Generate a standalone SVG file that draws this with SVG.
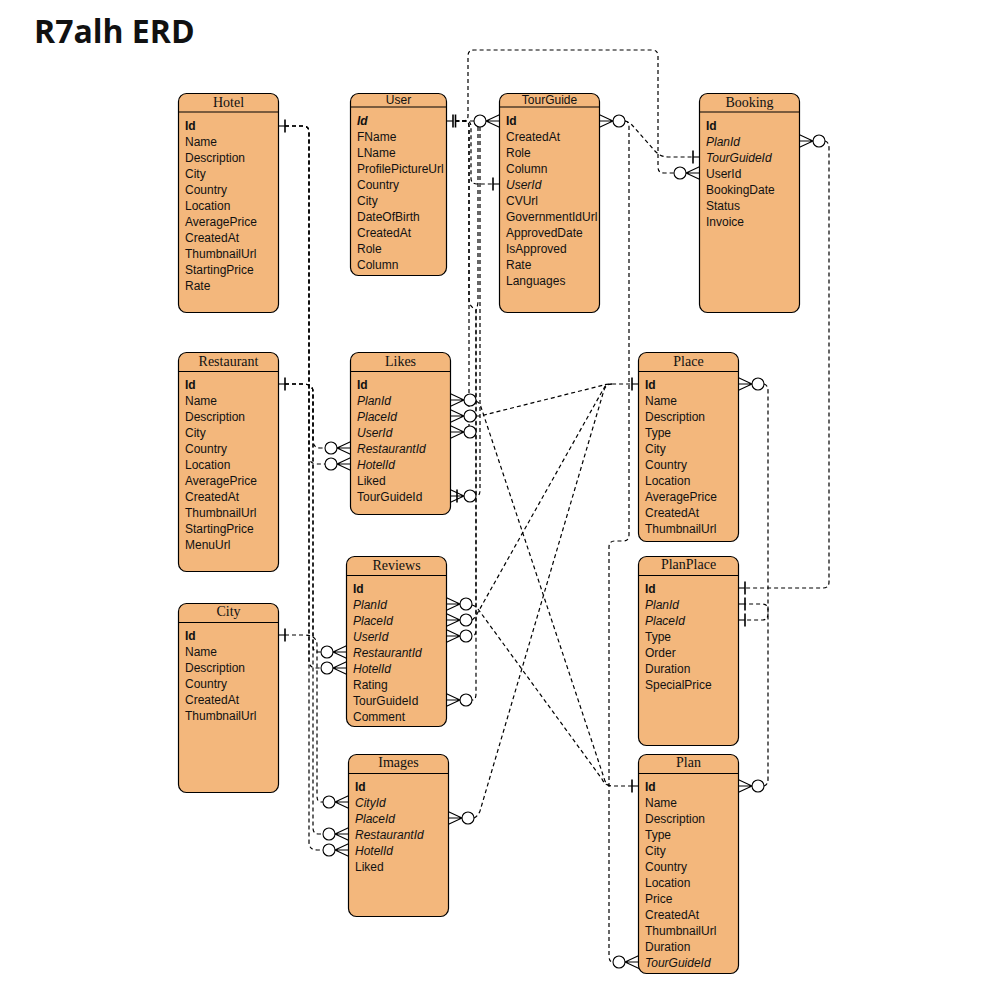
<svg xmlns="http://www.w3.org/2000/svg" xmlns:xlink="http://www.w3.org/1999/xlink" width="986" height="985" viewBox="0 0 986 985">
<style>
.box{fill:#F3B77C;stroke:#000;stroke-width:1.2}
.sep{stroke:#000;stroke-width:1.2}
.ttl{font-family:"Liberation Serif",serif;font-size:14px;fill:#111;text-anchor:middle}
.ttls{font-family:"Liberation Sans",Arial,sans-serif;font-size:12px;fill:#111;text-anchor:middle}
.row{font-family:"Liberation Sans",Arial,sans-serif;font-size:12px;fill:#111}
.pk{font-weight:bold}
.fk{font-style:italic}
.ln{fill:none;stroke:#000;stroke-width:1.2;stroke-dasharray:4 3}
.mk{fill:#fff;stroke:#000;stroke-width:1.1}
.mkl{fill:none;stroke:#000;stroke-width:1.1}
.bar{stroke:#000;stroke-width:1.6}
</style>
<defs>
<g id="cfR"><path class="mkl" d="M0,-6.5 L14,0 L0,6.5 M0,0 L14,0"/><circle class="mk" cx="20" cy="0" r="6"/></g>
<g id="cfL"><path class="mkl" d="M0,-6.5 L-14,0 L0,6.5 M0,0 L-14,0"/><circle class="mk" cx="-20" cy="0" r="6"/></g>
<g id="barR"><path class="mkl" d="M0,0 L7,0"/><line class="bar" x1="7" y1="-6.5" x2="7" y2="6.5"/></g>
<g id="barL"><path class="mkl" d="M0,0 L-7,0"/><line class="bar" x1="-7" y1="-6.5" x2="-7" y2="6.5"/></g>
</defs>
<rect width="986" height="985" fill="#fff"/>
<text x="34" y="42.5" font-family="'Open Sans',sans-serif" font-weight="700" font-size="32" fill="#111">R7alh ERD</text>

<g id="connectors">
<!-- left bundle -->
<path class="ln" d="M285,126 L303,126 Q309,126 309,132 L309,456 Q309,464 317,464 L325,464"/>
<path class="ln" d="M285,126 L303,126 Q309,126 309,132 L309,660 Q309,668 316,668 L321,668"/>
<path class="ln" d="M285,126 L303,126 Q309,126 309,132 L309,842 Q309,850 317,850 L323,850"/>
<path class="ln" d="M285,384 L303,384 Q313,384 313,392 L313,440 Q313,448 320,448 L325,448"/>
<path class="ln" d="M285,384 L303,384 Q313,384 313,392 L313,646 Q313,652 318,652 L321,652"/>
<path class="ln" d="M285,384 L303,384 Q313,384 313,392 L313,828 Q313,834 319,834 L323,834"/>
<path class="ln" d="M285,635 L303,635 Q317,635 317,645 L317,796 Q317,802 321,802 L323,802"/>
<!-- middle column -->
<path class="ln" d="M455,121 L463,121 Q468,121 468,116 L468,56 Q468,50 474,50 L652,50 Q658,50 658,56 L658,167 Q658,173 664,173 L674,173"/>
<path class="ln" d="M455,121 L466,121 Q471,121 471,127 L471,178 Q471,184 477,184 L492,184"/>
<path class="ln" d="M455,121 L464,121 Q469,121 469,126 L469,426"/>
<path class="ln" d="M455,121 L464,121 Q469,121 469,126 L469,300 Q469,306 476,310 L476,630 Q476,636 472,636"/>
<path class="ln" d="M474,121 L457,121"/>
<path class="ln" d="M480,127 L480,490 Q480,496 476,496"/>
<path class="ln" d="M478,127 L478,300 Q478,306 476,310 L476,694 Q476,700 472,700"/>
<!-- diagonals -->
<path class="ln" d="M476,401 Q480,403 481,407 L604,778 Q606,786 612,786 L632,786"/>
<path class="ln" d="M476,416 L480,416 L604,385 Q606,384 612,384 L632,384"/>
<path class="ln" d="M472,605 Q476,606 478,609 L602,779 Q605,786 612,786"/>
<path class="ln" d="M472,620 Q475,618 477,614 L604,388 Q606,384 612,384"/>
<path class="ln" d="M474,818 Q478,816 480,811 L604,390 Q606,384 612,384"/>
<!-- right side -->
<path class="ln" d="M625,121 Q629,122 632,125 L654,150 Q660,157 668,157 L693,157"/>
<path class="ln" d="M625,121 Q629,121 629,127 L629,535 Q629,541 623,541 L615,541 Q609,541 609,547 L609,956 Q609,962 613,962"/>
<path class="ln" d="M825,141 Q829,142 829,148 L829,582 Q829,588 823,588 L745,588"/>
<path class="ln" d="M764,384 Q768,385 768,391 L768,614 Q768,620 762,620 L745,620"/>
<path class="ln" d="M764,786 Q768,785 768,779 L768,610 Q768,604 762,604 L745,604"/>
<!-- end markers -->
<use href="#barR" x="278" y="126"/>
<use href="#barR" x="278" y="384"/>
<use href="#barR" x="278" y="635"/>
<use href="#barR" x="446" y="121"/>
<line class="bar" x1="455.5" y1="114.5" x2="455.5" y2="127.5"/>
<use href="#barL" x="500" y="184"/>
<use href="#barL" x="700" y="157"/>
<use href="#barL" x="639" y="384"/>
<use href="#barL" x="639" y="786"/>
<use href="#barR" x="738" y="588"/>
<use href="#barR" x="738" y="604"/>
<use href="#barR" x="738" y="620"/>
<use href="#cfR" x="450" y="400"/>
<use href="#cfR" x="450" y="416"/>
<use href="#cfR" x="450" y="432"/>
<use href="#cfR" x="450" y="496"/>
<line class="bar" x1="457" y1="489.5" x2="457" y2="502.5"/>
<use href="#cfR" x="446" y="604"/>
<use href="#cfR" x="446" y="620"/>
<use href="#cfR" x="446" y="636"/>
<use href="#cfR" x="446" y="700"/>
<use href="#cfR" x="448" y="818"/>
<use href="#cfR" x="599" y="121"/>
<use href="#cfR" x="799" y="141"/>
<use href="#cfR" x="738" y="384"/>
<use href="#cfR" x="738" y="786"/>
<use href="#cfL" x="500" y="121"/>
<use href="#cfL" x="700" y="173"/>
<use href="#cfL" x="351" y="448"/>
<use href="#cfL" x="351" y="464"/>
<use href="#cfL" x="347" y="652"/>
<use href="#cfL" x="347" y="668"/>
<use href="#cfL" x="349" y="802"/>
<use href="#cfL" x="349" y="834"/>
<use href="#cfL" x="349" y="850"/>
<use href="#cfL" x="639" y="962"/>
</g>

<g id="Hotel">
<rect class="box" x="178.5" y="93.5" width="100" height="219" rx="8"/>
<line class="sep" x1="178.5" y1="112" x2="278.5" y2="112"/>
<text class="ttl" x="228.5" y="107">Hotel</text>
<text class="row" x="185">
<tspan x="185" y="130" class="pk">Id</tspan><tspan x="185" y="146">Name</tspan><tspan x="185" y="162">Description</tspan><tspan x="185" y="178">City</tspan><tspan x="185" y="194">Country</tspan><tspan x="185" y="210">Location</tspan><tspan x="185" y="226">AveragePrice</tspan><tspan x="185" y="242">CreatedAt</tspan><tspan x="185" y="258">ThumbnailUrl</tspan><tspan x="185" y="274">StartingPrice</tspan><tspan x="185" y="290">Rate</tspan>
</text>
</g>

<g id="User">
<rect class="box" x="350.5" y="93.5" width="96" height="182" rx="8"/>
<line class="sep" x1="350.5" y1="107" x2="446.5" y2="107"/>
<text class="ttls" x="398.5" y="104">User</text>
<text class="row">
<tspan x="357" y="125" class="pk fk">Id</tspan><tspan x="357" y="141">FName</tspan><tspan x="357" y="157">LName</tspan><tspan x="357" y="173">ProfilePictureUrl</tspan><tspan x="357" y="189">Country</tspan><tspan x="357" y="205">City</tspan><tspan x="357" y="221">DateOfBirth</tspan><tspan x="357" y="237">CreatedAt</tspan><tspan x="357" y="253">Role</tspan><tspan x="357" y="269">Column</tspan>
</text>
</g>

<g id="TourGuide">
<rect class="box" x="499.5" y="93.5" width="100" height="219" rx="8"/>
<line class="sep" x1="499.5" y1="107" x2="599.5" y2="107"/>
<text class="ttls" x="549.5" y="104">TourGuide</text>
<text class="row">
<tspan x="506" y="125" class="pk">Id</tspan><tspan x="506" y="141">CreatedAt</tspan><tspan x="506" y="157">Role</tspan><tspan x="506" y="173">Column</tspan><tspan x="506" y="189" class="fk">UserId</tspan><tspan x="506" y="205">CVUrl</tspan><tspan x="506" y="221">GovernmentIdUrl</tspan><tspan x="506" y="237">ApprovedDate</tspan><tspan x="506" y="253">IsApproved</tspan><tspan x="506" y="269">Rate</tspan><tspan x="506" y="285">Languages</tspan>
</text>
</g>

<g id="Booking">
<rect class="box" x="699.5" y="93.5" width="100" height="219" rx="8"/>
<line class="sep" x1="699.5" y1="112" x2="799.5" y2="112"/>
<text class="ttl" x="749.5" y="107">Booking</text>
<text class="row">
<tspan x="706" y="130" class="pk">Id</tspan><tspan x="706" y="146" class="fk">PlanId</tspan><tspan x="706" y="162" class="fk">TourGuideId</tspan><tspan x="706" y="178">UserId</tspan><tspan x="706" y="194">BookingDate</tspan><tspan x="706" y="210">Status</tspan><tspan x="706" y="226">Invoice</tspan>
</text>
</g>

<g id="Restaurant">
<rect class="box" x="178.5" y="352.5" width="100" height="219" rx="8"/>
<line class="sep" x1="178.5" y1="371.5" x2="278.5" y2="371.5"/>
<text class="ttl" x="228.5" y="366">Restaurant</text>
<text class="row">
<tspan x="185" y="389" class="pk">Id</tspan><tspan x="185" y="405">Name</tspan><tspan x="185" y="421">Description</tspan><tspan x="185" y="437">City</tspan><tspan x="185" y="453">Country</tspan><tspan x="185" y="469">Location</tspan><tspan x="185" y="485">AveragePrice</tspan><tspan x="185" y="501">CreatedAt</tspan><tspan x="185" y="517">ThumbnailUrl</tspan><tspan x="185" y="533">StartingPrice</tspan><tspan x="185" y="549">MenuUrl</tspan>
</text>
</g>

<g id="Likes">
<rect class="box" x="350.5" y="352.5" width="100" height="162" rx="8"/>
<line class="sep" x1="350.5" y1="371.5" x2="450.5" y2="371.5"/>
<text class="ttl" x="400.5" y="366">Likes</text>
<text class="row">
<tspan x="357" y="389" class="pk">Id</tspan><tspan x="357" y="405" class="fk">PlanId</tspan><tspan x="357" y="421" class="fk">PlaceId</tspan><tspan x="357" y="437" class="fk">UserId</tspan><tspan x="357" y="453" class="fk">RestaurantId</tspan><tspan x="357" y="469" class="fk">HotelId</tspan><tspan x="357" y="485">Liked</tspan><tspan x="357" y="501">TourGuideId</tspan>
</text>
</g>

<g id="Place">
<rect class="box" x="638.5" y="352.5" width="100" height="189" rx="8"/>
<line class="sep" x1="638.5" y1="371.5" x2="738.5" y2="371.5"/>
<text class="ttl" x="688.5" y="366">Place</text>
<text class="row">
<tspan x="645" y="389" class="pk">Id</tspan><tspan x="645" y="405">Name</tspan><tspan x="645" y="421">Description</tspan><tspan x="645" y="437">Type</tspan><tspan x="645" y="453">City</tspan><tspan x="645" y="469">Country</tspan><tspan x="645" y="485">Location</tspan><tspan x="645" y="501">AveragePrice</tspan><tspan x="645" y="517">CreatedAt</tspan><tspan x="645" y="533">ThumbnailUrl</tspan>
</text>
</g>

<g id="City">
<rect class="box" x="178.5" y="603.5" width="100" height="189" rx="8"/>
<line class="sep" x1="178.5" y1="622.5" x2="278.5" y2="622.5"/>
<text class="ttl" x="228.5" y="616">City</text>
<text class="row">
<tspan x="185" y="640" class="pk">Id</tspan><tspan x="185" y="656">Name</tspan><tspan x="185" y="672">Description</tspan><tspan x="185" y="688">Country</tspan><tspan x="185" y="704">CreatedAt</tspan><tspan x="185" y="720">ThumbnailUrl</tspan>
</text>
</g>

<g id="Reviews">
<rect class="box" x="346.5" y="556.5" width="100" height="170" rx="8"/>
<line class="sep" x1="346.5" y1="575.5" x2="446.5" y2="575.5"/>
<text class="ttl" x="396.5" y="570">Reviews</text>
<text class="row">
<tspan x="353" y="593" class="pk">Id</tspan><tspan x="353" y="609" class="fk">PlanId</tspan><tspan x="353" y="625" class="fk">PlaceId</tspan><tspan x="353" y="641" class="fk">UserId</tspan><tspan x="353" y="657" class="fk">RestaurantId</tspan><tspan x="353" y="673" class="fk">HotelId</tspan><tspan x="353" y="689">Rating</tspan><tspan x="353" y="705">TourGuideId</tspan><tspan x="353" y="721">Comment</tspan>
</text>
</g>

<g id="PlanPlace">
<rect class="box" x="638.5" y="556.5" width="100" height="189" rx="8"/>
<line class="sep" x1="638.5" y1="575.5" x2="738.5" y2="575.5"/>
<text class="ttl" x="688.5" y="569">PlanPlace</text>
<text class="row">
<tspan x="645" y="593" class="pk">Id</tspan><tspan x="645" y="609" class="fk">PlanId</tspan><tspan x="645" y="625" class="fk">PlaceId</tspan><tspan x="645" y="641">Type</tspan><tspan x="645" y="657">Order</tspan><tspan x="645" y="673">Duration</tspan><tspan x="645" y="689">SpecialPrice</tspan>
</text>
</g>

<g id="Images">
<rect class="box" x="348.5" y="754.5" width="100" height="162" rx="8"/>
<line class="sep" x1="348.5" y1="773.5" x2="448.5" y2="773.5"/>
<text class="ttl" x="398.5" y="767">Images</text>
<text class="row">
<tspan x="355" y="791" class="pk">Id</tspan><tspan x="355" y="807" class="fk">CityId</tspan><tspan x="355" y="823" class="fk">PlaceId</tspan><tspan x="355" y="839" class="fk">RestaurantId</tspan><tspan x="355" y="855" class="fk">HotelId</tspan><tspan x="355" y="871">Liked</tspan>
</text>
</g>

<g id="Plan">
<rect class="box" x="638.5" y="754.5" width="100" height="219" rx="8"/>
<line class="sep" x1="638.5" y1="773.5" x2="738.5" y2="773.5"/>
<text class="ttl" x="688.5" y="767">Plan</text>
<text class="row">
<tspan x="645" y="791" class="pk">Id</tspan><tspan x="645" y="807">Name</tspan><tspan x="645" y="823">Description</tspan><tspan x="645" y="839">Type</tspan><tspan x="645" y="855">City</tspan><tspan x="645" y="871">Country</tspan><tspan x="645" y="887">Location</tspan><tspan x="645" y="903">Price</tspan><tspan x="645" y="919">CreatedAt</tspan><tspan x="645" y="935">ThumbnailUrl</tspan><tspan x="645" y="951">Duration</tspan><tspan x="645" y="967" class="fk">TourGuideId</tspan>
</text>
</g>
</svg>
